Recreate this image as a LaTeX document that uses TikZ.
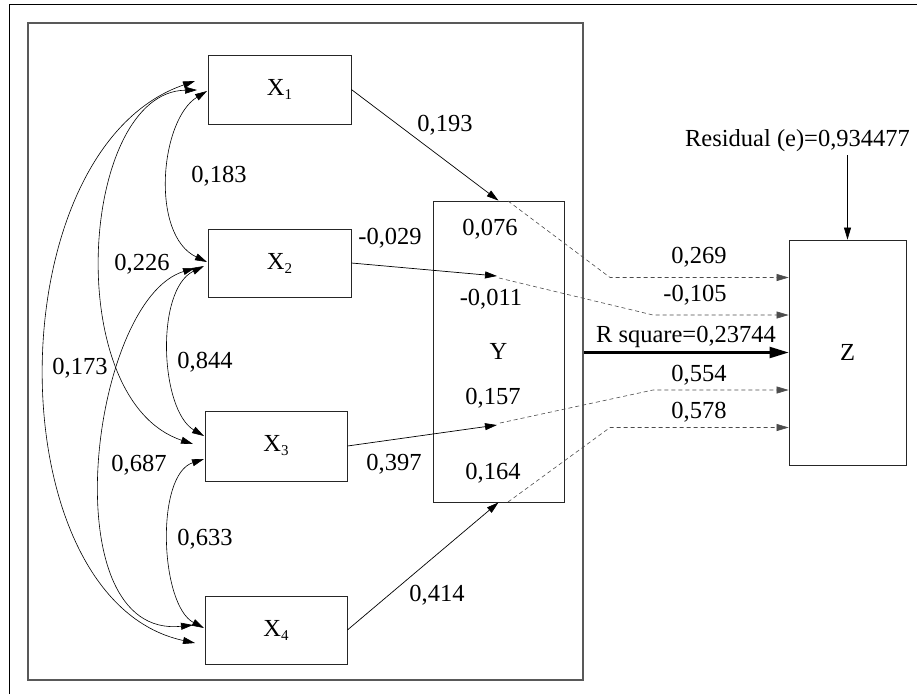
\documentclass[tikz,border=0pt]{standalone}
\usepackage{fontspec}
\setmainfont{Liberation Serif}
\usetikzlibrary{arrows.meta}
\newcommand{\lowsub}[1]{\raisebox{-4pt}{\fontsize{15}{15}\selectfont #1}}
\begin{document}
\begin{tikzpicture}[x=1pt,y=-1pt,
  font=\fontsize{24.5}{28}\selectfont,
  box/.style={draw=black!85, line width=0.8pt, inner sep=0pt, anchor=center},
  lbl/.style={inner sep=0pt, anchor=center},
  tip/.style={-{Triangle[length=12pt,width=7pt]}, line width=0.7pt},
  bi/.style={{Triangle[length=12pt,width=7pt]}-{Triangle[length=12pt,width=7pt]}, line width=0.6pt},
  dsh/.style={-{Triangle[length=12pt,width=7pt]}, line width=0.6pt, draw=black!70, dash pattern=on 4pt off 3pt},
  heavy/.style={-{Triangle[length=19pt,width=11pt]}, line width=2.2pt}
]
\useasboundingbox (0,0) rectangle (917,694);
% outer frame (partly visible)
\draw[line width=0.8pt] (9,694) -- (9,4) -- (917,4);
% inner frame
\node[draw=black!65, line width=1.3pt, minimum width=555pt, minimum height=657pt, inner sep=0pt] (frame) at (305.5,351.5) {};

% boxes
\node[box, minimum width=143pt, minimum height=69pt] (X1) at (279.5,89.5) {X\lowsub{1}};
\node[box, minimum width=143pt, minimum height=68pt] (X2) at (279.5,263) {X\lowsub{2}};
\node[box, minimum width=142pt, minimum height=70pt] (X3) at (276,446) {X\lowsub{3}};
\node[box, minimum width=142pt, minimum height=68pt] (X4) at (276,630) {X\lowsub{4}};
\node[box, minimum width=131pt, minimum height=301pt] (Y) at (498.5,351.5) {Y};
\node[box, minimum width=117pt, minimum height=225pt] (Z) at (847.5,352.5) {Z};

% arrows into Y
\coordinate (c2) at (497,276);
\coordinate (c3) at (497,425);
\draw[tip] (X1.east) -- (Y.north);
\draw[tip] (X2.east) -- (c2);
\draw[tip] (X3.east) -- (c3);
\draw[tip] (X4.east) -- (Y.south);

% dashed arrows to Z
\coordinate (d1) at (508,201);
\coordinate (d2) at (499,278);
\coordinate (d3) at (500,423);
\coordinate (d4) at (508,502);
\coordinate (k1) at (610,277.5);
\coordinate (k2) at (653,315);
\coordinate (k3) at (653,390);
\coordinate (k4) at (610,427.5);
\draw[dsh] (d1) -- (k1) -- ([yshift=75pt]Z.west);
\draw[dsh] (d2) -- (k2) -- ([yshift=37.5pt]Z.west);
\draw[dsh] (d3) -- (k3) -- ([yshift=-37.5pt]Z.west);
\draw[dsh] (d4) -- (k4) -- ([yshift=-75pt]Z.west);

% thick arrow
\draw[heavy] (frame.east |- Z.west) -- (Z.west);

% residual
\node[lbl] (res) at (797.5,141) {Residual (e)=0,934477};
\coordinate (r0) at (847.5,155);
\draw[tip] (r0) -- (Z.north);

% correlation curves
\coordinate (a14) at (195,81);
\coordinate (b14) at (195,643);
\coordinate (a13) at (197,90);
\coordinate (b13) at (193,444);
\coordinate (a12) at (207,91);
\coordinate (b12) at (207,262);
\coordinate (a23) at (204,266);
\coordinate (b23) at (204,436);
\coordinate (a24) at (195,268);
\coordinate (b24) at (193,625);
\coordinate (a34) at (204,459);
\coordinate (b34) at (204,628);
\draw[bi] (a14) .. controls (-5,150) and (-5,600) .. (b14);
\draw[bi] (a13) .. controls (80,92) and (60,400) .. (b13);
\draw[bi] (a12) .. controls (160,120) and (150,235) .. (b12);
\draw[bi] (a23) .. controls (155,290) and (160,410) .. (b23);
\draw[bi] (a24) .. controls (90,300) and (50,640) .. (b24);
\draw[bi] (a34) .. controls (155,475) and (160,605) .. (b34);

% labels
\node[lbl] (l193) at (445,125) {0,193};
\node[lbl] (l183) at (219,176) {0,183};
\node[lbl] (l226) at (142,264) {0,226};
\node[lbl] (l029) at (390,238) {-0,029};
\node[lbl] (l076) at (490,229) {0,076};
\node[lbl] (l011) at (491,299) {-0,011};
\node[lbl] (l157) at (493,398) {0,157};
\node[lbl] (l164) at (493,473) {0,164};
\node[lbl] (l397) at (394,464) {0,397};
\node[lbl] (l414) at (437,595) {0,414};
\node[lbl] (l844) at (205,362) {0,844};
\node[lbl] (l173) at (80,368) {0,173};
\node[lbl] (l687) at (139,465) {0,687};
\node[lbl] (l633) at (205,539) {0,633};
\node[lbl] (l269) at (699,257) {0,269};
\node[lbl] (l105) at (695,295) {-0,105};
\node[lbl] (lR) at (686,337) {R square=0,23744};
\node[lbl] (l554) at (699,375) {0,554};
\node[lbl] (l578) at (699,412) {0,578};
\end{tikzpicture}
\end{document}
